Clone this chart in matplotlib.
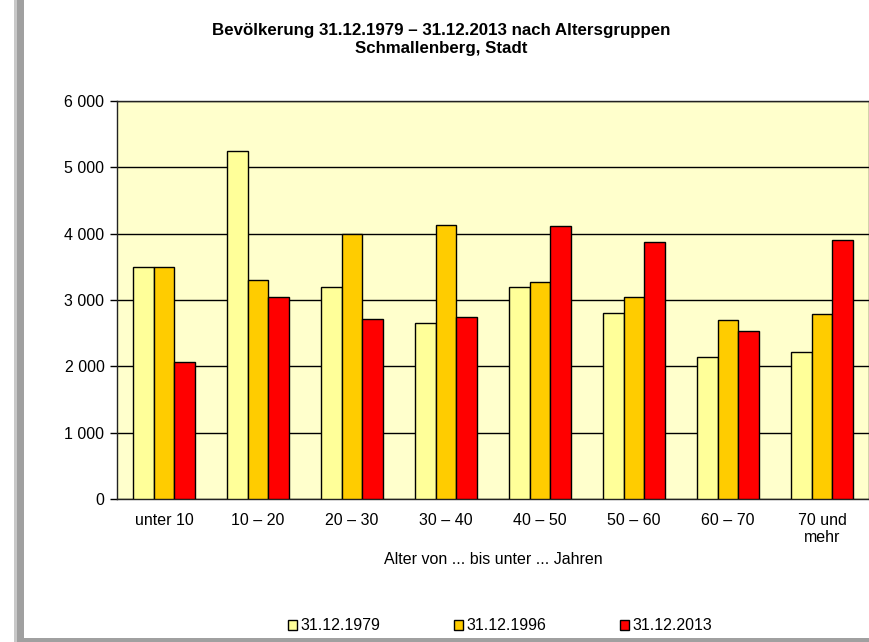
import matplotlib.pyplot as plt
import numpy as np
from matplotlib.patches import Rectangle

plt.rcParams['font.family'] = ['Liberation Sans', 'DejaVu Sans']

# Daten
kategorien = ['unter 10', '10 – 20', '20 – 30', '30 – 40', '40 – 50',
              '50 – 60', '60 – 70', '70 und\nmehr']
werte_1979 = [3490, 5250, 3200, 2660, 3200, 2800, 2140, 2210]
werte_1996 = [3490, 3300, 4000, 4130, 3270, 3050, 2700, 2790]
werte_2013 = [2060, 3040, 2720, 2750, 4110, 3870, 2530, 3910]
serien = ['31.12.1979', '31.12.1996', '31.12.2013']
farben = ['#FFFF99', '#FFCC00', '#FF0000']

fig = plt.figure(figsize=(8.7, 6.42), dpi=100)

# Schatten links und unten
fig.patches.append(Rectangle((14 / 870, 0), 4 / 870, 1, transform=fig.transFigure,
                             facecolor='#c8c8c8', edgecolor='none', zorder=0))
fig.patches.append(Rectangle((17 / 870, 0), 7 / 870, 1, transform=fig.transFigure,
                             facecolor='#a0a0a0', edgecolor='none', zorder=0))
fig.patches.append(Rectangle((17 / 870, 0), 1, 4 / 642, transform=fig.transFigure,
                             facecolor='#a0a0a0', edgecolor='none', zorder=0))

ax = fig.add_axes([117 / 870, (642 - 499) / 642, 752 / 870, 398 / 642])
ax.set_facecolor('#FFFFCC')

x = np.arange(len(kategorien))
b = 0.223
for i, (werte, name, farbe) in enumerate(zip([werte_1979, werte_1996, werte_2013], serien, farben)):
    ax.bar(x + (i - 1) * b, werte, width=b, color=farbe, edgecolor='black',
           linewidth=1.0, label=name, zorder=3)

ax.set_xlim(-0.5, len(kategorien) - 0.5)
ax.set_ylim(0, 6000)
ax.set_yticks(range(0, 6001, 1000))
ax.set_yticklabels([f'{v:,}'.replace(',', ' ') for v in range(0, 6001, 1000)], fontsize=11.5)
ax.yaxis.grid(True, color='black', linewidth=1.0, zorder=1)
ax.set_xticks(x)
ax.set_xticklabels(kategorien, fontsize=11.5, linespacing=1.15)
ax.tick_params(axis='x', length=0, pad=10)
ax.tick_params(axis='y', length=5, width=1, direction='out', pad=4)
for s in ax.spines.values():
    s.set_linewidth(1.0)
    s.set_color('#222222')

ax.set_xlabel('Alter von ... bis unter ... Jahren', fontsize=11.5, labelpad=5)

fig.text(0.507, 1 - 39 / 642, 'Bevölkerung 31.12.1979 – 31.12.2013 nach Altersgruppen\nSchmallenberg, Stadt',
         ha='center', va='center', fontsize=12.2, fontweight='bold', linespacing=1.25)

fig.legend(loc='center', bbox_to_anchor=(500 / 870, 1 - 626 / 642), ncol=3, frameon=False,
           fontsize=11.5, handlelength=0.6, handleheight=0.6, handletextpad=0.2,
           columnspacing=4.6)

fig.savefig('out.png', dpi=100)
